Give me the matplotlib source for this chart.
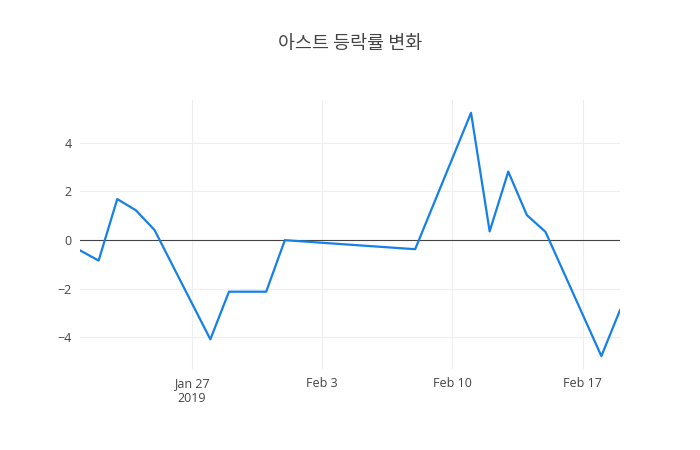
import matplotlib
matplotlib.use("Agg")
import matplotlib.pyplot as plt
import pandas as pd

dates = ["2019-01-21", "2019-01-22", "2019-01-23", "2019-01-24", "2019-01-25",
         "2019-01-28", "2019-01-29", "2019-01-30", "2019-01-31", "2019-02-01",
         "2019-02-07", "2019-02-08", "2019-02-11", "2019-02-12", "2019-02-13",
         "2019-02-14", "2019-02-15", "2019-02-18", "2019-02-19"]
change = [-0.43, -0.85, 1.68, 1.22, 0.41,
          -4.09, -2.13, -2.13, -2.13, -0.01,
          -0.33, -0.38, 5.23, 0.35, 2.81,
          1.02, 0.33, -4.78, -2.89]
tick_dates = ["2019-01-27", "2019-02-03", "2019-02-10", "2019-02-17"]
tick_labels = ["Jan 27\n2019", "Feb 3", "Feb 10", "Feb 17"]
yticks = [-4, -2, 0, 2, 4]

x = pd.to_datetime(dates)

plt.rcParams['font.family'] = ['Open Sans', 'Noto Sans CJK KR', 'DejaVu Sans']
fig = plt.figure(figsize=(7, 4.5), dpi=100)
ax = fig.add_axes([0.1143, 0.18, 0.7714, 0.598])

ax.plot(x, change, color='#1580e8', linewidth=1.6, zorder=3)
ax.axhline(0, color='#444444', linewidth=0.8, zorder=2)

ax.set_xlim(x[0], x[-1])
pad = (max(change) - min(change)) * 0.053
ax.set_ylim(min(change) - pad, max(change) + pad)

ax.set_xticks(pd.to_datetime(tick_dates))
ax.set_xticklabels(tick_labels)
ax.set_yticks(yticks)
ax.set_yticklabels([str(v).replace('-', '\u2212') for v in yticks])

ax.grid(True, color='#eeeeee', linewidth=0.8)
ax.set_axisbelow(True)
for s in ax.spines.values():
    s.set_visible(False)
ax.tick_params(length=0, labelsize=9, colors='#444444', pad=6)

fig.text(0.5, 0.902, '아스트 등락률 변화', ha='center', va='center',
         fontsize=13.3, color='#444444', family=['Noto Sans CJK KR', 'DejaVu Sans'])

fig.savefig('out.png', dpi=100)
